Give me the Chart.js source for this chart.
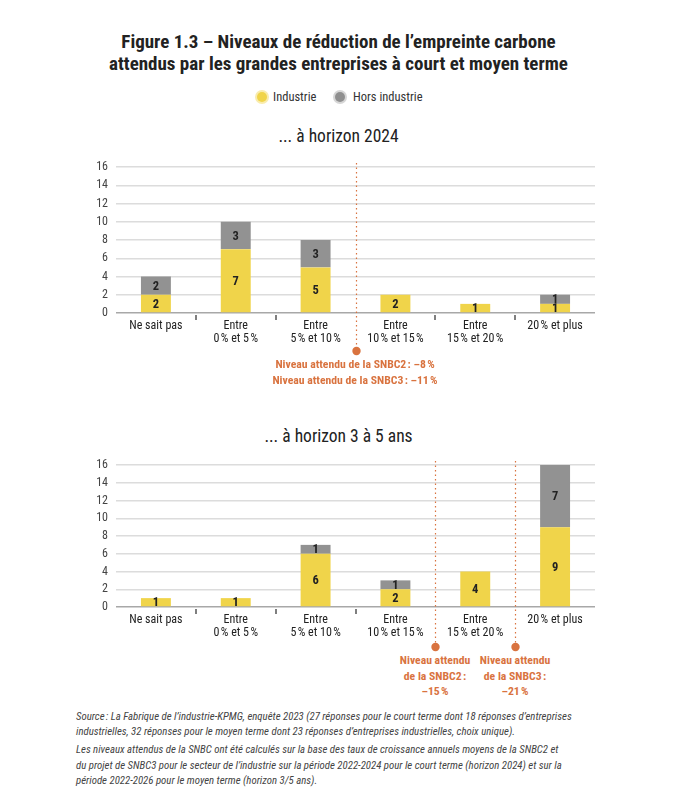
<!DOCTYPE html>
<html><head><meta charset="utf-8">
<script src="https://cdn.jsdelivr.net/npm/chart.js@4.4.1/dist/chart.umd.min.js"></script>
<style>
body{margin:0;background:#fff;width:677px;height:800px;position:relative;overflow:hidden;font-family:"Roboto Condensed","Roboto",sans-serif;color:#222}
.abs{position:absolute}
.title{left:0;width:677px;top:31px;text-align:center;font-weight:bold;font-size:19px;line-height:22px;color:#222}
.legend{top:89px;font-size:12.5px;color:#333}
.dot{position:absolute;width:10px;height:10px;border-radius:50%}
.sub{left:0;width:677px;text-align:center;font-size:17.5px;color:#222}
.ann{color:#d9733f;font-weight:bold;font-size:11.7px;line-height:15.5px;text-align:center;transform:translateX(-50%);white-space:nowrap}
.foot{left:76px;top:709px;font-style:italic;font-size:10.8px;line-height:15.2px;color:#444;white-space:nowrap}
.box{position:absolute}
</style></head><body>
<div class="abs title">Figure 1.3 – Niveaux de réduction de l’empreinte carbone<br>attendus par les grandes entreprises à court et moyen terme</div>
<div class="abs legend" style="left:0;width:677px;height:20px">
  <div class="dot" style="left:257px;top:3px;background:#f0d44a;box-shadow:0 0 0 2px #f9ecad"></div>
  <div class="abs" style="left:273px;top:0">Industrie</div>
  <div class="dot" style="left:335px;top:3px;background:#8f8f8f;box-shadow:0 0 0 2px #d6d6d6"></div>
  <div class="abs" style="left:353px;top:0">Hors industrie</div>
</div>
<div class="abs sub" style="top:126px">... à horizon 2024</div>
<div class="box" style="left:60px;top:150px;width:540px;height:208px"><canvas id="c1"></canvas></div>
<div class="abs ann" style="left:355px;top:357px">Niveau attendu de la SNBC2&#8239;: –8&#8239;%<br>Niveau attendu de la SNBC3&#8239;: –11&#8239;%</div>
<div class="abs sub" style="top:426px">... à horizon 3 à 5 ans</div>
<div class="box" style="left:60px;top:448px;width:540px;height:204px"><canvas id="c2"></canvas></div>
<div class="abs ann" style="left:435px;top:653px">Niveau attendu<br>de la SNBC2&#8239;:<br>–15&#8239;%</div>
<div class="abs ann" style="left:515px;top:653px">Niveau attendu<br>de la SNBC3&#8239;:<br>–21&#8239;%</div>
<div class="abs foot">Source&#8239;: La Fabrique de l’industrie-KPMG, enquête 2023 (27 réponses pour le court terme dont 18 réponses d’entreprises<br>industrielles, 32 réponses pour le moyen terme dont 23 réponses d’entreprises industrielles, choix unique).<div style="height:3px"></div>Les niveaux attendus de la SNBC ont été calculés sur la base des taux de croissance annuels moyens de la SNBC2 et<br>du projet de SNBC3 pour le secteur de l’industrie sur la période 2022-2024 pour le court terme (horizon 2024) et sur la<br>période 2022-2026 pour le moyen terme (horizon 3/5 ans).</div>
<script>
const categories = [["Ne sait pas"], ["Entre", "0\u202f% et 5\u202f%"], ["Entre", "5\u202f% et 10\u202f%"], ["Entre", "10\u202f% et 15\u202f%"], ["Entre", "15\u202f% et 20\u202f%"], ["20\u202f% et plus"]];
const industrie2024 = [2, 7, 5, 2, 1, 1];
const horsIndustrie2024 = [2, 3, 3, 0, 0, 1];
const industrie3a5 = [1, 1, 6, 2, 4, 9];
const horsIndustrie3a5 = [0, 0, 1, 1, 0, 7];
const snbcBoundaries2024 = [2.5];
const snbcBoundaries3a5 = [3.5, 4.5];
const yMax = 16, yStep = 2;

const FONT = "'Roboto Condensed','Roboto',sans-serif";
const YELLOW = '#f0d44a', GREY = '#929292', ORANGE = '#d9733f';

function makePlugin(boundaries, dotOffset){
  return {
    id:'custom',
    afterDatasetsDraw(chart){
      const ctx = chart.ctx, x = chart.scales.x, a = chart.chartArea;
      ctx.save();
      ctx.strokeStyle = '#555'; ctx.lineWidth = 1.5;
      for(let i=1;i<categories.length;i++){
        if(boundaries.includes(i-0.5)) continue;
        const px = Math.round(x.getPixelForValue(i-0.5));
        ctx.beginPath(); ctx.moveTo(px, a.bottom+2); ctx.lineTo(px, a.bottom+7); ctx.stroke();
      }
      boundaries.forEach(b=>{
        const px = Math.round(x.getPixelForValue(b))+0.5;
        const dy = a.bottom + dotOffset;
        ctx.strokeStyle = ORANGE; ctx.lineWidth = 1.2; ctx.setLineDash([1.5,3]);
        ctx.beginPath(); ctx.moveTo(px, a.top-4); ctx.lineTo(px, dy); ctx.stroke();
        ctx.setLineDash([]);
        ctx.fillStyle = ORANGE; ctx.beginPath(); ctx.arc(px, dy, 4.2, 0, Math.PI*2); ctx.fill();
      });
      ctx.fillStyle = '#222'; ctx.font = "bold 12.5px "+FONT; ctx.textAlign='center'; ctx.textBaseline='middle';
      chart.data.datasets.forEach((ds,di)=>{
        const meta = chart.getDatasetMeta(di);
        meta.data.forEach((bar,i)=>{
          const v = ds.data[i]; if(!v) return;
          ctx.fillText(String(v), bar.x, (bar.y+bar.base)/2+1);
        });
      });
      ctx.restore();
    }
  };
}

function build(id, ind, hors, boundaries, dotOffset){
  return new Chart(document.getElementById(id), {
    type:'bar',
    data:{labels:categories, datasets:[
      {label:'Industrie', data:ind, backgroundColor:YELLOW, barPercentage:1, categoryPercentage:0.375},
      {label:'Hors industrie', data:hors, backgroundColor:GREY, barPercentage:1, categoryPercentage:0.375}
    ]},
    options:{
      responsive:true, maintainAspectRatio:false, animation:false,
      layout:{padding:{top:17,right:5,left:0,bottom:0}},
      plugins:{legend:{display:false}, tooltip:{enabled:false}},
      scales:{
        x:{stacked:true, grid:{display:false, drawTicks:false}, border:{display:false},
           ticks:{color:'#222', font:{family:FONT,size:12, lineHeight:1.06}, padding:7, maxRotation:0, autoSkip:false},
           afterFit(s){s.height = 45;}},
        y:{stacked:true, min:0, max:yMax, ticks:{stepSize:yStep, autoSkip:false, color:'#444', font:{family:FONT,size:12}, padding:8},
           grid:{color:(c)=>c.tick && c.tick.value===0 ? '#a8a8a8' : '#dcdcdc', lineWidth:1.5, drawTicks:false},
           border:{display:false},
           afterFit(s){s.width = 56;}}
      }
    },
    plugins:[makePlugin(boundaries, dotOffset)]
  });
}
build('c1', industrie2024, horsIndustrie2024, snbcBoundaries2024, 38);
build('c2', industrie3a5, horsIndustrie3a5, snbcBoundaries3a5, 40);
</script>
</body></html>
